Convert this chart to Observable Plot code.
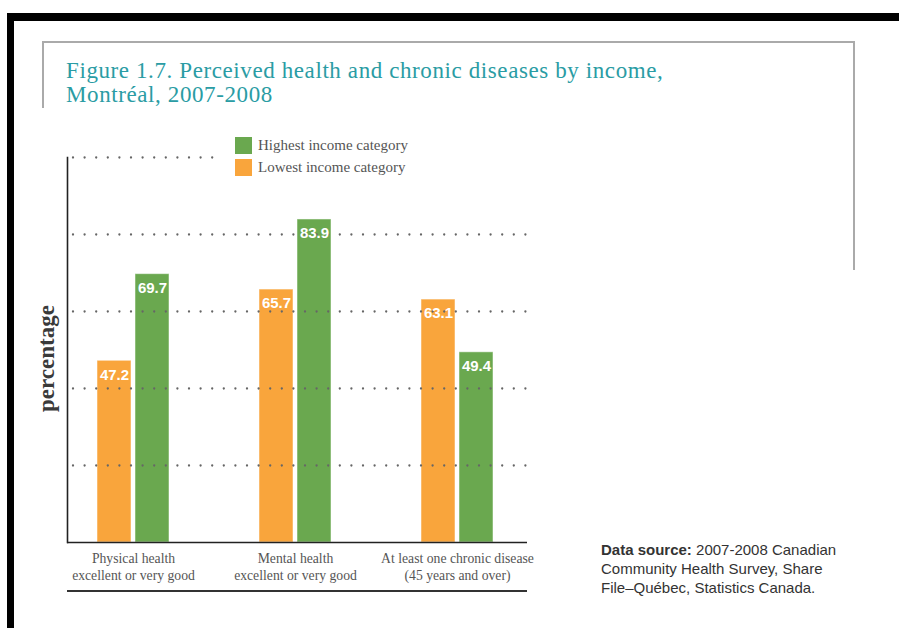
<!DOCTYPE html>
<html>
<head>
<meta charset="utf-8">
<script src="https://cdn.jsdelivr.net/npm/d3@7"></script>
<script src="https://cdn.jsdelivr.net/npm/@observablehq/plot@0.6"></script>
<style>
  body { margin: 0; background: #fff; }
  #page { position: relative; width: 899px; height: 628px; overflow: hidden; background: #fff; font-family: "Liberation Serif", serif; }
  .blk { position: absolute; background: #000; }
  #title { position: absolute; left: 66px; top: 59px; font-size: 23px; letter-spacing: 0.6px; line-height: 24px; color: #2a9ca4; white-space: nowrap; }
  #chart { position: absolute; left: 0; top: 140px; }
  #legend { position: absolute; left: 214px; top: 133px; width: 320px; height: 47px; background: #fff; }
  .sw { position: absolute; left: 21px; width: 17px; height: 17px; }
  .lt { position: absolute; left: 44px; font-size: 15px; color: #555; white-space: nowrap; line-height: 17px; }
  #bline { position: absolute; left: 67px; top: 590px; width: 460px; border-top: 2px solid #333; }
  #source { position: absolute; left: 601px; top: 540px; font-family: "Liberation Sans", Arial, sans-serif; font-size: 15px; line-height: 19px; color: #333; white-space: nowrap; }
</style>
</head>
<body>
<div id="page">
  <div class="blk" style="left:7px;top:13px;width:892px;height:8px"></div>
  <div class="blk" style="left:7px;top:13px;width:7px;height:615px"></div>
  <div style="position:absolute;left:42px;top:41px;width:811px;height:227px;border-top:2px solid #aaa;border-right:2px solid #aaa;"></div>
  <div style="position:absolute;left:42px;top:41px;width:2px;height:67px;background:#aaa"></div>
  <div id="title">Figure 1.7. Perceived health and chronic diseases by income,<br>Montréal, 2007-2008</div>
  <div id="chart"></div>
  <div id="legend"></div>
  <div id="bline"></div>
  <div id="source"><b>Data source:</b> 2007-2008 Canadian<br>Community Health Survey, Share<br>File–Québec, Statistics Canada.</div>
</div>
<script>
// ---- data ----
const groups = [
  "Physical health\nexcellent or very good",
  "Mental health\nexcellent or very good",
  "At least one chronic disease\n(45 years and over)"
];
const lowestIncome = [47.2, 65.7, 63.1];
const highestIncome = [69.7, 83.9, 49.4];
const seriesNames = ["Highest income category", "Lowest income category"];
const seriesColors = ["#6aa84f", "#f9a53c"];
const gridValues = [20, 40, 60, 80, 100];
const yLabel = "percentage";

const lowRows = groups.map((g, i) => ({group: g, value: lowestIncome[i]}));
const highRows = groups.map((g, i) => ({group: g, value: highestIncome[i]}));

// ---- legend (HTML) ----
const legend = document.getElementById("legend");
seriesNames.forEach((name, i) => {
  const sw = document.createElement("div");
  sw.className = "sw";
  sw.style.top = (4 + i * 22) + "px";
  sw.style.background = seriesColors[i];
  legend.appendChild(sw);
  const t = document.createElement("div");
  t.className = "lt";
  t.style.top = (4 + i * 22) + "px";
  t.textContent = name;
  legend.appendChild(t);
});

// ---- chart ----
const chart = Plot.plot({
  width: 560,
  height: 460,
  marginLeft: 67,
  marginRight: 33,
  marginTop: 17,
  marginBottom: 58,
  style: {fontFamily: "Liberation Serif, serif", fontSize: "13.7px", background: "transparent"},
  x: {domain: groups, paddingInner: 0.557, paddingOuter: 0.194, align: 0.47, axis: null},
  y: {domain: [0, 100], axis: null},
  marks: [
    Plot.barY(lowRows, {x: "group", y: "value", fill: seriesColors[1], insetRight: 38, stroke: "#fff", strokeOpacity: 0.5, strokeWidth: 1}),
    Plot.barY(highRows, {x: "group", y: "value", fill: seriesColors[0], insetLeft: 38, stroke: "#fff", strokeOpacity: 0.5, strokeWidth: 1}),
    Plot.ruleY(gridValues, {stroke: "#666", strokeWidth: 2.3, strokeDasharray: "0,11.6", strokeLinecap: "round", insetLeft: 6}),
    Plot.text(lowRows, {x: "group", y: "value", text: d => d.value.toFixed(1), dx: -19, dy: 14, fill: "#fff", fontWeight: "bold", fontSize: 15, fontFamily: "Liberation Sans, Arial, sans-serif"}),
    Plot.text(highRows, {x: "group", y: "value", text: d => d.value.toFixed(1), dx: 19, dy: 14, fill: "#fff", fontWeight: "bold", fontSize: 15, fontFamily: "Liberation Sans, Arial, sans-serif"}),
    Plot.ruleY([0], {stroke: "#222", strokeWidth: 1.6}),
    Plot.frame({anchor: "left", stroke: "#222", strokeWidth: 1.6}),
    Plot.axisX({tickSize: 0, tickPadding: 9, color: "#555", fontSize: 13.7, lineHeight: 1.2, label: null}),
    Plot.text([yLabel], {frameAnchor: "left", textAnchor: "middle", rotate: -90, dx: -21, dy: 8.5, fontSize: 23, fontWeight: "bold", fill: "#3a3a3a", fontFamily: "Liberation Serif, serif"})
  ]
});
document.getElementById("chart").appendChild(chart);
</script>
</body>
</html>
